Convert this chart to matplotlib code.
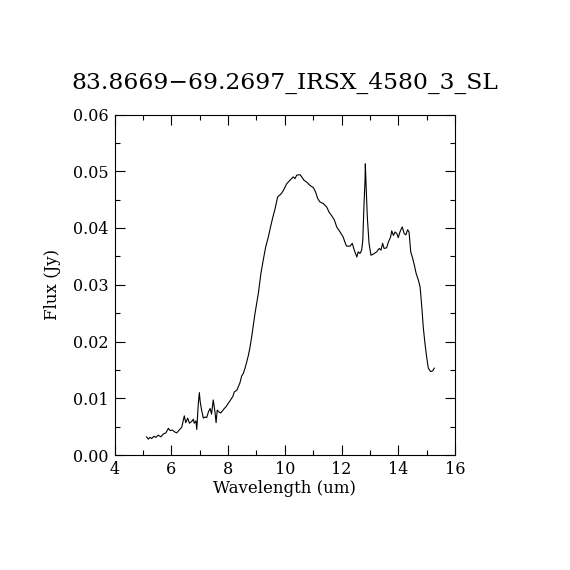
import matplotlib
matplotlib.use("Agg")
import matplotlib.pyplot as plt
from matplotlib.ticker import MultipleLocator

title = "83.8669\u221269.2697_IRSX_4580_3_SL"

wavelength = [5.13, 5.19, 5.25, 5.31, 5.39, 5.46, 5.54, 5.63, 5.72, 5.81, 5.90, 5.96,
              6.04, 6.11, 6.19, 6.28, 6.37, 6.43, 6.46, 6.51, 6.58, 6.64, 6.72, 6.78,
              6.81, 6.87, 6.90, 6.92, 6.95, 6.99, 7.02, 7.07, 7.13, 7.19, 7.25, 7.31,
              7.37, 7.42, 7.48, 7.54, 7.58, 7.62, 7.68, 7.74, 7.81, 7.87, 7.93, 8.01,
              8.09, 8.17, 8.22, 8.31, 8.36, 8.42, 8.48, 8.54, 8.60, 8.66, 8.72, 8.78,
              8.84, 8.95, 9.07, 9.16, 9.24, 9.33, 9.42, 9.50, 9.58, 9.66, 9.75, 9.87,
              9.95, 10.07, 10.18, 10.30, 10.36, 10.42, 10.54, 10.60, 10.68, 10.77,
              10.89, 11.01, 11.09, 11.16, 11.24, 11.36, 11.48, 11.56, 11.65, 11.75,
              11.83, 11.95, 12.06, 12.12, 12.18, 12.30, 12.38, 12.45, 12.54, 12.59,
              12.65, 12.71, 12.75, 12.79, 12.83, 12.84, 12.86, 12.91, 12.97, 13.04,
              13.12, 13.24, 13.33, 13.39, 13.45, 13.50, 13.59, 13.65, 13.73, 13.77,
              13.83, 13.89, 13.95, 14.00, 14.06, 14.14, 14.21, 14.27, 14.33, 14.38,
              14.44, 14.51, 14.57, 14.63, 14.71, 14.77, 14.83, 14.88, 14.94, 15.00,
              15.06, 15.14, 15.21, 15.27]

flux = [0.0032, 0.0028, 0.0031, 0.0029, 0.0033, 0.0031, 0.0035, 0.0032, 0.0037, 0.0039,
        0.0047, 0.0043, 0.0044, 0.0041, 0.0039, 0.0044, 0.0049, 0.0062, 0.0069, 0.0057,
        0.0065, 0.0056, 0.0059, 0.0063, 0.0056, 0.0060, 0.0045, 0.0062, 0.0088, 0.0110,
        0.0094, 0.0079, 0.0065, 0.0067, 0.0066, 0.0076, 0.0082, 0.0072, 0.0097, 0.0076,
        0.0057, 0.0079, 0.0076, 0.0074, 0.0078, 0.0082, 0.0085, 0.0091, 0.0097, 0.0103,
        0.0111, 0.0114, 0.0120, 0.0127, 0.0139, 0.0144, 0.0153, 0.0164, 0.0176, 0.0191,
        0.0210, 0.0249, 0.0285, 0.0320, 0.0343, 0.0367, 0.0384, 0.0402, 0.0419, 0.0434,
        0.0455, 0.0460, 0.0466, 0.0478, 0.0484, 0.0490, 0.0487, 0.0493, 0.0494, 0.0490,
        0.0484, 0.0481, 0.0475, 0.0471, 0.0463, 0.0452, 0.0446, 0.0443, 0.0437, 0.0428,
        0.0422, 0.0414, 0.0402, 0.0393, 0.0384, 0.0375, 0.0368, 0.0368, 0.0373, 0.0361,
        0.0349, 0.0358, 0.0355, 0.0361, 0.0378, 0.0437, 0.0485, 0.0513, 0.0484, 0.0419,
        0.0373, 0.0352, 0.0354, 0.0358, 0.0364, 0.0361, 0.0373, 0.0364, 0.0365, 0.0375,
        0.0384, 0.0395, 0.0387, 0.0393, 0.0390, 0.0383, 0.0393, 0.0402, 0.0390, 0.0388,
        0.0397, 0.0393, 0.0358, 0.0346, 0.0334, 0.0320, 0.0308, 0.0296, 0.0261, 0.0226,
        0.0197, 0.0173, 0.0153, 0.0147, 0.0148, 0.0153]

plt.rcParams['font.family'] = ['DejaVu Serif']

fig = plt.figure(figsize=(5.7, 5.7), dpi=100)
ax = fig.add_axes([114.5 / 570, 1 - 455 / 570, 340.5 / 570, 340.5 / 570])
ax.plot(wavelength, flux, color='black', linewidth=0.8)

ax.set_xlim(4, 16)
ax.set_ylim(0, 0.06)
ax.xaxis.set_major_locator(MultipleLocator(2))
ax.xaxis.set_minor_locator(MultipleLocator(1))
ax.yaxis.set_major_locator(MultipleLocator(0.01))
ax.yaxis.set_minor_locator(MultipleLocator(0.005))
ax.yaxis.set_major_formatter(matplotlib.ticker.FormatStrFormatter('%.2f'))
ax.tick_params(which='both', direction='in', top=True, right=True, width=0.8,
               labelsize=11.5, pad=4)
ax.tick_params(which='major', length=7)
ax.tick_params(which='minor', length=3.5)
for s in ax.spines.values():
    s.set_linewidth(0.8)

ax.set_xlabel("Wavelength (um)", fontsize=12, labelpad=2)
ax.set_ylabel("Flux (Jy)", fontsize=12, labelpad=9)
fig.text(0.5, 1 - 89 / 570, title, ha='center', va='baseline', fontsize=16.8)

fig.savefig("out.png", dpi=100, facecolor='white')
